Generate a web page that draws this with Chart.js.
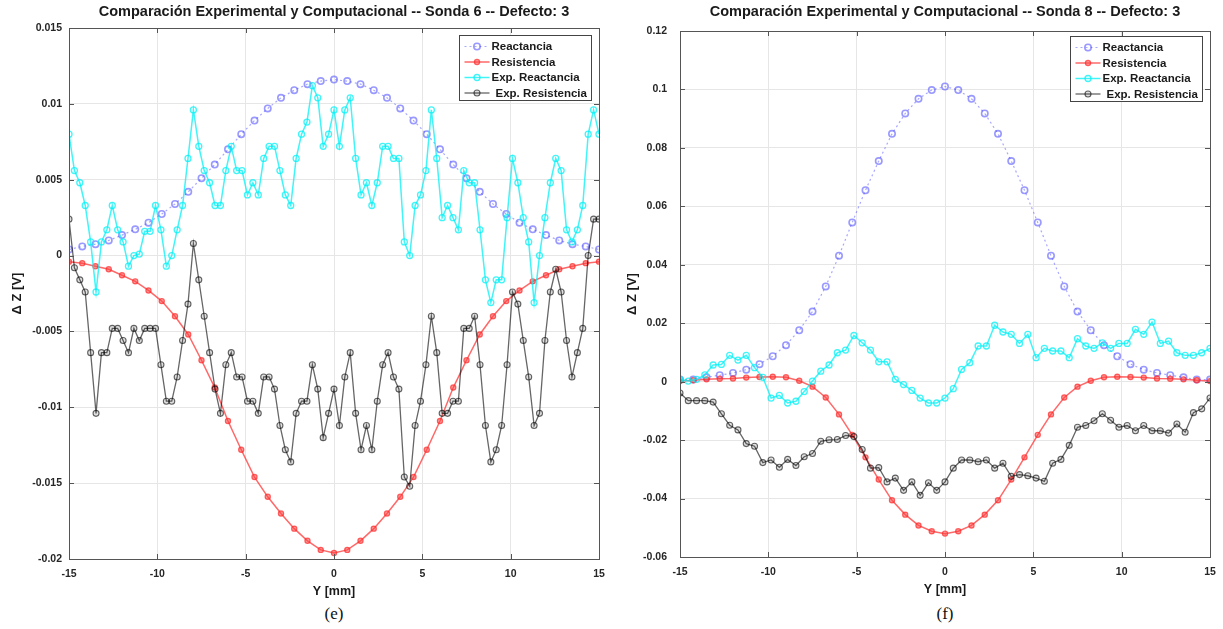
<!DOCTYPE html>
<html>
<head>
<meta charset="utf-8">
<script src="https://cdn.jsdelivr.net/npm/chart.js@4.4.1/dist/chart.umd.min.js"></script>
<style>
  body { margin: 0; background: #fff; width: 1223px; height: 629px; position: relative; overflow: hidden; }
  .panel { position: absolute; top: 0; width: 611px; height: 600px; }
  .caption { position: absolute; top: 604px; font: 17px "Liberation Serif", "Times New Roman", serif; color: #111; transform: translateX(-50%); }
</style>
</head>
<body>
<div class="panel" style="left:0"><canvas id="chartE"></canvas></div>
<div class="panel" style="left:611px"><canvas id="chartF"></canvas></div>
<div class="caption" style="left:334px">(e)</div>
<div class="caption" style="left:945px">(f)</div>
<script>
// model positions (mm), 0.75 mm step
const modelY = [-15, -14.25, -13.5, -12.75, -12, -11.25, -10.5, -9.75, -9, -8.25, -7.5, -6.75, -6, -5.25, -4.5, -3.75, -3, -2.25, -1.5, -0.75,
  0, 0.75, 1.5, 2.25, 3, 3.75, 4.5, 5.25, 6, 6.75, 7.5, 8.25, 9, 9.75, 10.5, 11.25, 12, 12.75, 13.5, 14.25, 15];

// ---- panel (e): Sonda 6 ----
const reacE = [0.0004, 0.0006, 0.00075, 0.001, 0.00135, 0.00173, 0.00217, 0.00274, 0.0034, 0.0042, 0.0051, 0.006, 0.007, 0.008, 0.0089, 0.0097, 0.0104, 0.0109, 0.0113, 0.0115,
  0.0116, 0.0115, 0.0113, 0.0109, 0.0104, 0.0097, 0.0089, 0.008, 0.007, 0.006, 0.0051, 0.0042, 0.0034, 0.00274, 0.00217, 0.00173, 0.00135, 0.001, 0.00075, 0.0006, 0.0004];
const resE = [-0.0004, -0.0005, -0.0007, -0.0009, -0.0013, -0.0017, -0.0023, -0.003, -0.004, -0.0052, -0.0069, -0.0087, -0.0109, -0.0128, -0.0146, -0.0159, -0.017, -0.018, -0.0188, -0.0194,
  -0.0196, -0.0194, -0.0188, -0.018, -0.017, -0.0159, -0.0146, -0.0128, -0.0109, -0.0087, -0.0069, -0.0052, -0.004, -0.003, -0.0023, -0.0017, -0.0013, -0.0009, -0.0007, -0.0005, -0.0004];
const expReacE = [0.0080, 0.0056, 0.0048, 0.0033, 0.0009, -0.0024, 0.0009, 0.0017, 0.0033, 0.0017,
  0.0009, -0.0007, 0.0000, 0.0001, 0.0016, 0.0016, 0.0033, 0.0017, -0.0007, 0.0000,
  0.0017, 0.0033, 0.0064, 0.0096, 0.0072, 0.0056, 0.0048, 0.0033, 0.0033, 0.0056,
  0.0072, 0.0056, 0.0056, 0.0040, 0.0048, 0.0040, 0.0064, 0.0072, 0.0072, 0.0056,
  0.0040, 0.0033, 0.0064, 0.0080, 0.0088, 0.0112, 0.0104, 0.0072, 0.0080, 0.0096,
  0.0072, 0.0096, 0.0104, 0.0064, 0.0040, 0.0048, 0.0033, 0.0048, 0.0072, 0.0072,
  0.0064, 0.0064, 0.0009, 0.0000, 0.0033, 0.0040, 0.0056, 0.0096, 0.0064, 0.0025,
  0.0033, 0.0025, 0.0017, 0.0056, 0.0048, 0.0048, 0.0017, -0.0016, -0.0031, -0.0016,
  -0.0016, 0.0025, 0.0064, 0.0048, 0.0025, 0.0009, -0.0031, 0.0000, 0.0025, 0.0048,
  0.0064, 0.0056, 0.0017, 0.0009, 0.0017, 0.0033, 0.0080, 0.0096, 0.0080];
const expResE = [0.0024, -0.0008, -0.0016, -0.0024, -0.0064, -0.0104, -0.0064, -0.0064, -0.0048, -0.0048,
  -0.0056, -0.0064, -0.0048, -0.0056, -0.0048, -0.0048, -0.0048, -0.0072, -0.0096, -0.0096,
  -0.0080, -0.0056, -0.0032, 0.0008, -0.0016, -0.0040, -0.0064, -0.0088, -0.0104, -0.0072,
  -0.0064, -0.0080, -0.0080, -0.0096, -0.0096, -0.0104, -0.0080, -0.0080, -0.0088, -0.0112,
  -0.0128, -0.0136, -0.0104, -0.0096, -0.0096, -0.0072, -0.0088, -0.0120, -0.0104, -0.0088,
  -0.0112, -0.0080, -0.0064, -0.0104, -0.0128, -0.0112, -0.0128, -0.0096, -0.0072, -0.0064,
  -0.0080, -0.0088, -0.0146, -0.0152, -0.0112, -0.0096, -0.0072, -0.0040, -0.0064, -0.0104,
  -0.0104, -0.0096, -0.0096, -0.0048, -0.0048, -0.0040, -0.0072, -0.0112, -0.0136, -0.0128,
  -0.0112, -0.0072, -0.0024, -0.0032, -0.0056, -0.0080, -0.0112, -0.0104, -0.0056, -0.0024,
  -0.0009, -0.0024, -0.0056, -0.0080, -0.0064, -0.0048, 0.0000, 0.0024, 0.0024];
const yTicksE = [0.015, 0.01, 0.005, 0, -0.005, -0.01, -0.015, -0.02];

// ---- panel (f): Sonda 8 ----
const reacF = [0.0007, 0.0007, 0.0015, 0.0022, 0.003, 0.0041, 0.006, 0.0087, 0.0125, 0.0176, 0.024, 0.0326, 0.0431, 0.0545, 0.0655, 0.0755, 0.0848, 0.0918, 0.0968, 0.0998,
  0.101, 0.0998, 0.0968, 0.0918, 0.0848, 0.0755, 0.0655, 0.0545, 0.0431, 0.0326, 0.024, 0.0176, 0.0125, 0.0087, 0.006, 0.0041, 0.003, 0.0022, 0.0015, 0.0007, 0.0007];
const resF = [0.0002, 0.0005, 0.0008, 0.001, 0.0011, 0.0014, 0.0016, 0.0017, 0.0015, 0.0003, -0.0017, -0.0054, -0.0112, -0.0182, -0.0259, -0.0335, -0.0406, -0.0455, -0.0492, -0.0512,
  -0.052, -0.0512, -0.0492, -0.0455, -0.0406, -0.0335, -0.0259, -0.0182, -0.0112, -0.0054, -0.0017, 0.0003, 0.0015, 0.0017, 0.0016, 0.0014, 0.0011, 0.001, 0.0008, 0.0005, 0.0002];
const expReacF = [0.0008, 0.0002, 0.0008, 0.0023, 0.0057, 0.0059, 0.0090, 0.0074, 0.0090, 0.0048, 0.0015,
  -0.0056, -0.0047, -0.0073, -0.0067, -0.0034, 0.0002, 0.0036, 0.0057, 0.0099, 0.0108,
  0.0158, 0.0133, 0.0108, 0.0068, 0.0068, 0.0008, -0.0010, -0.0030, -0.0056, -0.0073,
  -0.0073, -0.0056, -0.0024, 0.0042, 0.0065, 0.0122, 0.0122, 0.0193, 0.0170, 0.0162,
  0.0131, 0.0162, 0.0082, 0.0114, 0.0105, 0.0105, 0.0082, 0.0147, 0.0122, 0.0114,
  0.0133, 0.0114, 0.0131, 0.0131, 0.0179, 0.0162, 0.0204, 0.0131, 0.0139, 0.0099,
  0.0090, 0.0090, 0.0099, 0.0114];
const expResF = [-0.0039, -0.0065, -0.0065, -0.0065, -0.0070, -0.0110, -0.0149, -0.0165, -0.0212, -0.0221,
  -0.0277, -0.0268, -0.0293, -0.0266, -0.0287, -0.0257, -0.0246, -0.0204, -0.0199, -0.0198,
  -0.0184, -0.0188, -0.0232, -0.0296, -0.0294, -0.0343, -0.0330, -0.0372, -0.0343, -0.0389,
  -0.0346, -0.0372, -0.0343, -0.0296, -0.0268, -0.0268, -0.0274, -0.0268, -0.0296, -0.0279,
  -0.0324, -0.0318, -0.0322, -0.0330, -0.0341, -0.0279, -0.0266, -0.0218, -0.0156, -0.0150,
  -0.0134, -0.0110, -0.0132, -0.0156, -0.0150, -0.0168, -0.0150, -0.0168, -0.0168, -0.0176,
  -0.0145, -0.0173, -0.0106, -0.0093, -0.0056];
const yTicksF = [0.12, 0.1, 0.08, 0.06, 0.04, 0.02, 0, -0.02, -0.04, -0.06];

const xTicks = [-15, -10, -5, 0, 5, 10, 15];
const seriesNames = ['Reactancia', 'Resistencia', 'Exp. Reactancia', 'Exp. Resistencia'];

const FONT = '"Liberation Sans", Arial, Helvetica, sans-serif';
const styles = [
  { line: 'rgba(80,80,255,0.5)', width: 1.2, dash: [2, 3], r: 3.2, pfill: 'rgba(0,0,0,0)', pline: 'rgba(70,70,255,0.55)', pw: 1.6 },
  { line: 'rgba(255,40,40,0.7)', width: 1.5, dash: [], r: 2.6, pfill: 'rgba(255,70,70,0.55)', pline: 'rgba(255,40,40,0.7)', pw: 1.2 },
  { line: 'rgba(0,240,245,0.75)', width: 1.5, dash: [], r: 3, pfill: 'rgba(0,0,0,0)', pline: 'rgba(0,240,245,0.75)', pw: 1.3 },
  { line: 'rgba(0,0,0,0.6)', width: 1.3, dash: [], r: 3, pfill: 'rgba(0,0,0,0.12)', pline: 'rgba(0,0,0,0.6)', pw: 1.1 }
];

// evenly spaced scan positions for the measured series
function scanPos(vals) {
  return vals.map((v, i) => -15 + i * 30 / (vals.length - 1));
}
function pts(xs, ys) {
  return ys.map((v, i) => ({ x: xs[i], y: v }));
}

const frame = {
  id: 'frame',
  afterDraw(chart, args, opts) {
    const { ctx, chartArea: a, scales } = chart;
    ctx.save();
    ctx.strokeStyle = '#555';
    ctx.lineWidth = 1;
    ctx.strokeRect(Math.round(a.left) + 0.5, Math.round(a.top) + 0.5, Math.round(a.right - a.left), Math.round(a.bottom - a.top));
    // inward ticks
    ctx.beginPath();
    xTicks.forEach(v => {
      const px = Math.round(scales.x.getPixelForValue(v)) + 0.5;
      ctx.moveTo(px, a.bottom); ctx.lineTo(px, a.bottom - 5);
      ctx.moveTo(px, a.top); ctx.lineTo(px, a.top + 5);
    });
    opts.yTicks.forEach(v => {
      const py = Math.round(scales.y.getPixelForValue(v)) + 0.5;
      ctx.moveTo(a.left, py); ctx.lineTo(a.left + 5, py);
      ctx.moveTo(a.right, py); ctx.lineTo(a.right - 5, py);
    });
    ctx.stroke();

    // title
    ctx.fillStyle = '#1a1a1a';
    ctx.font = 'bold 14.5px ' + FONT;
    ctx.textAlign = 'center';
    ctx.textBaseline = 'middle';
    ctx.fillText(opts.title, (a.left + a.right) / 2, 12);

    // legend box
    const w = 132, h = 65;
    const bx = Math.round(a.right - 8 - w) + 0.5, by = Math.round(a.top + opts.legendGap) + 0.5;
    ctx.fillStyle = '#fff';
    ctx.fillRect(bx, by, w, h);
    ctx.strokeStyle = '#444';
    ctx.strokeRect(bx, by, w, h);
    ctx.font = 'bold 11.5px ' + FONT;
    ctx.textAlign = 'left';
    seriesNames.forEach((name, i) => {
      const s = styles[i];
      const ly = by + 11 + i * 15.5;
      ctx.strokeStyle = s.line;
      ctx.lineWidth = s.width;
      ctx.setLineDash(s.dash);
      ctx.beginPath();
      ctx.moveTo(bx + 5, ly); ctx.lineTo(bx + 30, ly);
      ctx.stroke();
      ctx.setLineDash([]);
      ctx.beginPath();
      ctx.arc(bx + 17.5, ly, s.r, 0, Math.PI * 2);
      ctx.fillStyle = s.pfill;
      ctx.fill();
      ctx.strokeStyle = s.pline;
      ctx.lineWidth = s.pw;
      ctx.stroke();
      ctx.fillStyle = '#1a1a1a';
      ctx.fillText(name, bx + (i === 3 ? 36 : 32), ly + 0.5);
    });
    ctx.restore();
  }
};

function makeChart(id, p) {
  const sets = [
    pts(modelY, p.reac),
    pts(modelY, p.res),
    pts(scanPos(p.expReac), p.expReac),
    pts(scanPos(p.expRes), p.expRes)
  ];
  const datasets = sets.map((data, i) => {
    const s = styles[i];
    return {
      label: seriesNames[i],
      data: data,
      borderColor: s.line,
      borderWidth: s.width,
      borderDash: s.dash,
      pointRadius: s.r,
      pointBorderWidth: s.pw,
      pointBackgroundColor: s.pfill,
      pointBorderColor: s.pline,
      fill: false,
      tension: 0,
      order: 3 - i
    };
  });

  const tickFont = { family: FONT, size: 10.5, weight: 'bold' };
  return new Chart(document.getElementById(id), {
    type: 'line',
    data: { datasets },
    options: {
      animation: false,
      responsive: true,
      maintainAspectRatio: false,
      layout: { padding: { top: p.top, right: 12, bottom: p.bottom, left: 0 } },
      plugins: {
        legend: { display: false },
        tooltip: { enabled: false },
        frame: { title: p.title, yTicks: p.yTicks, legendGap: p.legendGap }
      },
      scales: {
        x: {
          type: 'linear',
          min: -15,
          max: 15,
          afterBuildTicks: s => { s.ticks = xTicks.map(v => ({ value: v })); },
          // fixed height; end-label room comes from the layout padding
          afterFit: s => { s.height = 41; s.paddingLeft = 0; s.paddingRight = 0; },
          ticks: { color: '#262626', font: tickFont, padding: 9, maxRotation: 0 },
          grid: { color: '#e6e6e6', drawTicks: false },
          border: { display: false },
          title: { display: true, text: 'Y [mm]', color: '#1a1a1a', font: { family: FONT, size: 12.5, weight: 'bold' }, padding: { top: 0, bottom: 1 } }
        },
        y: {
          type: 'linear',
          min: p.yTicks[p.yTicks.length - 1],
          max: p.yTicks[0],
          afterBuildTicks: s => { s.ticks = p.yTicks.map(v => ({ value: v })); },
          afterFit: s => { s.width = 69; },
          ticks: { color: '#262626', font: tickFont, padding: p.tickPad, callback: v => String(+v.toFixed(4)) },
          grid: { color: '#e6e6e6', drawTicks: false },
          border: { display: false },
          title: { display: true, text: '\u0394 Z [V]', color: '#1a1a1a', font: { family: FONT, size: 13, weight: 'bold' }, padding: { top: p.titlePad, bottom: 0 } }
        }
      }
    },
    plugins: [frame]
  });
}

makeChart('chartE', {
  reac: reacE, res: resE, expReac: expReacE, expRes: expResE, yTicks: yTicksE,
  title: 'Comparación Experimental y Computacional -- Sonda 6 -- Defecto: 3',
  top: 28, bottom: 0, tickPad: 7, titlePad: 10, legendGap: 7
});
makeChart('chartF', {
  reac: reacF, res: resF, expReac: expReacF, expRes: expResF, yTicks: yTicksF,
  title: 'Comparación Experimental y Computacional -- Sonda 8 -- Defecto: 3',
  top: 31, bottom: 2, tickPad: 13, titlePad: 14, legendGap: 5
});
</script>
</body>
</html>
